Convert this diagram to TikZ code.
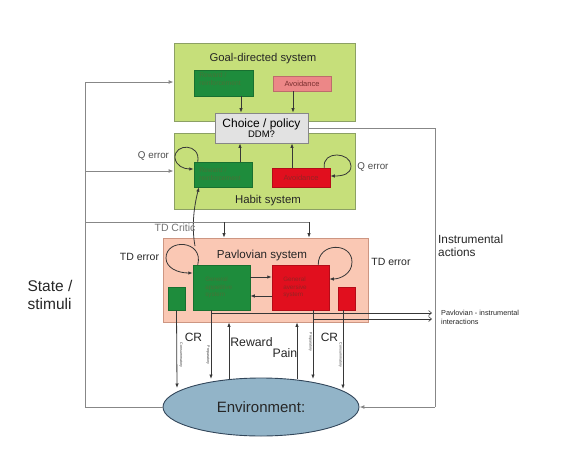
\documentclass[tikz,border=0pt]{standalone}
\usepackage{fontspec}
\setmainfont{Liberation Sans}
\usetikzlibrary{arrows.meta,shapes.geometric}
\definecolor{lime}{RGB}{198,223,122}
\definecolor{limeline}{RGB}{140,160,100}
\definecolor{dgreen}{RGB}{30,140,60}
\definecolor{dgreentxt}{RGB}{70,115,55}
\definecolor{bred}{RGB}{225,15,30}
\definecolor{bredtxt}{RGB}{150,35,35}
\definecolor{pinkbox}{RGB}{236,135,135}
\definecolor{pinktxt}{RGB}{120,45,45}
\definecolor{salmon}{RGB}{250,200,180}
\definecolor{salmonline}{RGB}{205,150,130}
\definecolor{choicegray}{RGB}{226,226,226}
\definecolor{envblue}{RGB}{146,180,200}
\definecolor{envline}{RGB}{50,70,90}
\definecolor{wire}{RGB}{55,55,55}
\definecolor{lwire}{RGB}{135,135,135}
\tikzset{
  sysbox/.style={draw=limeline, fill=lime, line width=0.8pt, inner sep=0pt},
  inbox/.style={inner sep=0pt, line width=0.5pt},
  arr/.style={draw=wire, line width=0.8pt, -{Latex[length=4.5pt,width=3.5pt]}},
  garr/.style={draw=lwire, line width=1pt, -{Latex[length=5pt,width=4pt]}},
  oarr/.style={draw=wire, line width=0.6pt, -{Straight Barb[length=3pt,width=5pt]}},
  gline/.style={draw=lwire, line width=1pt},
  tiny/.style={font=\fontsize{3.6}{4}\selectfont, text=wire, inner sep=0pt},
  lab/.style={inner sep=0pt, text=black!85},
}
\begin{document}
\begin{tikzpicture}[x=1pt,y=-1pt]
\useasboundingbox (0,0) rectangle (571,464);
% --- boxes
\node[sysbox, minimum width=181, minimum height=78] (goal) at (264.5,82) {};
\node[sysbox, minimum width=181, minimum height=76] (habit) at (264.5,171) {};
\node[draw=lwire, fill=choicegray, line width=0.8pt, minimum width=93, minimum height=30, inner sep=0pt, align=center] (choice) at (261.5,128)
  {\fontsize{12}{13}\selectfont Choice / policy\\[-1.5pt]\fontsize{9.5}{10}\selectfont DDM?};
\node[lab, font=\fontsize{11.3}{13}\selectfont] (goaltitle) at (263,59) {Goal-directed system};
\node[lab, font=\fontsize{11.4}{13}\selectfont] (habittitle) at (268,201) {Habit system};

\node[inbox, fill=dgreen, draw=dgreen!80!black, minimum width=59, minimum height=26] (goalrew) at (223.5,83) {};
\node[inbox, text=dgreentxt, align=left, font=\fontsize{6.8}{8}\selectfont, anchor=west] at (199,79) {Reward /\\reinforcement};
\node[inbox, fill=pinkbox, draw=pinkbox!80!black, minimum width=58, minimum height=15, text=pinktxt, font=\fontsize{7.5}{8}\selectfont] (goalav) at (302,83.5) {Avoidance};

\node[inbox, fill=dgreen, draw=dgreen!80!black, minimum width=58, minimum height=25] (habrew) at (223,174.5) {};
\node[inbox, text=dgreentxt, align=left, font=\fontsize{6.8}{8}\selectfont, anchor=west] at (199,174) {Reward /\\reinforcement};
\node[inbox, fill=bred, draw=bred!80!black, minimum width=58, minimum height=19, text=bredtxt, font=\fontsize{7.5}{8}\selectfont] (habav) at (301,177.5) {Avoidance};

\node[draw=salmonline, fill=salmon, line width=0.8pt, inner sep=0pt, minimum width=205, minimum height=84] (pav) at (265.5,280) {};
\node[lab, font=\fontsize{11.6}{13}\selectfont] (pavtitle) at (262,255) {Pavlovian system};
\node[inbox, fill=dgreen, draw=dgreen!80!black, minimum width=57, minimum height=45] (app) at (221.5,287.5) {};
\node[inbox, text=dgreentxt, align=left, font=\fontsize{6.3}{7.5}\selectfont, anchor=west] at (205,287.5) {General\\appetitive\\system};
\node[inbox, fill=bred, draw=bred!80!black, minimum width=57, minimum height=45] (avr) at (300.5,287.5) {};
\node[inbox, text=bredtxt, align=left, font=\fontsize{6.3}{7.5}\selectfont, anchor=west] at (283,287.5) {General\\aversive\\system};
\node[inbox, fill=dgreen, draw=dgreen!80!black, minimum width=17, minimum height=23] (sg) at (176.5,298.5) {};
\node[inbox, fill=bred, draw=bred!80!black, minimum width=17, minimum height=23] (sr) at (346.5,298.5) {};

\node[ellipse, draw=envline, fill=envblue, line width=0.9pt, minimum width=196, minimum height=58, inner sep=0pt, font=\fontsize{15}{17}\selectfont, text=black!85] (env) at (261,407) {Environment:};

% --- goal/habit to choice
\draw[arr] (goalrew.south -| 241,0) -- (choice.north -| 241,0);
\draw[arr] (goalav.south -| 293,0) -- (choice.north -| 293,0);
\draw[arr] (habrew.north -| 240,0) -- (choice.south -| 240,0);
\draw[arr] (habav.north -| 292,0) -- (choice.south -| 292,0);

% --- Q error loops
\draw[arr] (habrew.north west) ++(4,0) .. controls (201,143) and (174,143) .. (175,158)
  .. controls (176,166) and (184,169) .. (habrew.west |- 0,169);
\draw[arr] (habav.north east) ++(-6,0) .. controls (322,150) and (351,152) .. (351,166)
  .. controls (351,174) and (343,176) .. (habav.east |- 0,176);
\node[lab, text=black!70, font=\fontsize{9.8}{11}\selectfont] (qel) at (153.5,156) {Q error};
\node[lab, text=black!70, font=\fontsize{9.8}{11}\selectfont] (qer) at (373,167) {Q error};

% --- TD error loops
\draw[arr] (app.north west) ++(5,0) .. controls (204,240) and (166,238) .. (166,258)
  .. controls (166,268) and (178,273) .. (app.west |- 0,273);
\draw[arr] (avr.north east) ++(-11,0) .. controls (318,242) and (352,242) .. (352,262)
  .. controls (352,274) and (340,279) .. (avr.east |- 0,279);
\node[lab, font=\fontsize{10.5}{12}\selectfont] (tdl) at (139.5,257) {TD error};
\node[lab, font=\fontsize{10.5}{12}\selectfont] (tdr) at (391,262) {TD error};

% --- TD critic curve to habit
\coordinate (tdc0) at (195,246);
\draw[arr] (tdc0) .. controls (192,230) and (193,210) .. (habrew.south -| 199,0);

% --- appetitive <-> aversive
\draw[arr] (app.east |- 0,277) -- (avr.west |- 0,277);
\draw[arr] (avr.west |- 0,296) -- (app.east |- 0,296);

% --- state / stimuli line
\coordinate (sbl) at (85,407);
\coordinate (stl) at (85,82);
\draw[gline] (env.west) -- (sbl) -- (stl);
\draw[garr] (stl) -- (goal.west);
\draw[garr] (85,171) -- (habit.west);
\draw[gline] (85,222) -- (309,222);
\draw[arr] (224,222) -- (pav.north -| 224,0);
\draw[arr] (309,222) -- (pav.north -| 309,0);
\node[lab, text=black!55, font=\fontsize{10.5}{12}\selectfont] (tdcrit) at (175,228) {TD Critic};
\node[lab, align=left, font=\fontsize{15.5}{18}\selectfont] (state) at (50,295) {State /\\stimuli};

% --- instrumental actions
\coordinate (ia1) at (435,128);
\coordinate (ia2) at (435,407);
\draw[gline] (choice.east) -- (ia1) -- (ia2);
\draw[garr] (ia2) -- (env.east);
\node[lab, align=left, anchor=north west, font=\fontsize{11.8}{13}\selectfont] (ial) at (438,235) {Instrumental\\actions};

% --- Pavlovian-instrumental interactions
\coordinate (pi1) at (432,313);
\coordinate (pi2) at (432,319);
\draw[oarr] (211,313) -- (pi1);
\draw[oarr] (313,319) -- (pi2);
\node[lab, align=left, anchor=west, font=\fontsize{7.3}{9}\selectfont] (pil) at (441,317) {Pavlovian - instrumental\\interactions};

% --- CR arrows
\coordinate (e1) at (177,388);
\coordinate (e2) at (211,379);
\coordinate (e3) at (313,379);
\coordinate (e4) at (343,389);
\coordinate (e5) at (229,379);
\coordinate (e6) at (297,379);
\draw[arr] (sg.south) -- (e1);
\draw[arr] (app.south -| 211,0) -- (e2);
\draw[arr] (avr.south -| 313,0) -- (e3);
\draw[arr] (sr.south -| 343,0) -- (e4);
\draw[arr] (e5) -- (pav.south -| 229,0);
\draw[arr] (e6) -- (pav.south -| 297,0);

\node[tiny, rotate=-90] (con1) at (181,355) {Consummatory};
\node[tiny, rotate=-90] (pre1) at (208,355) {Preparatory};
\node[tiny, rotate=-90] (pre2) at (310.5,342) {Preparatory};
\node[tiny, rotate=-90] (con2) at (340.5,355) {Consummatory};

\node[lab, font=\fontsize{12}{14}\selectfont] (crl) at (193.5,337) {CR};
\node[lab, font=\fontsize{12}{14}\selectfont] (crr) at (329.5,337) {CR};
\node[lab, font=\fontsize{12.3}{14}\selectfont] (rew) at (251.5,342) {Reward};
\node[lab, font=\fontsize{12.3}{14}\selectfont] (pain) at (285,353) {Pain};
\end{tikzpicture}
\end{document}
